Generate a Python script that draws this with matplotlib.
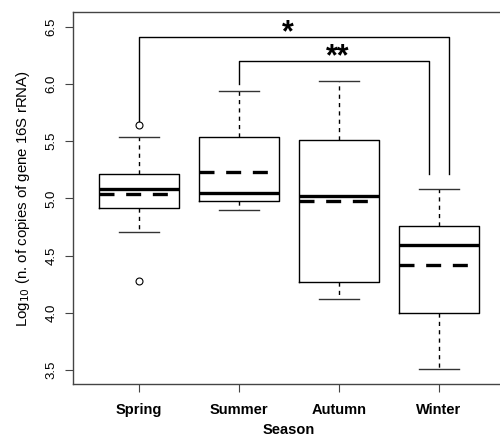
#!/usr/bin/env python3
# plot.py - seasonal boxplots of log10 16S rRNA gene copies
import matplotlib
matplotlib.use("Agg")
import matplotlib.pyplot as plt

plt.rcParams['font.family'] = ['Liberation Sans', 'DejaVu Sans']

seasons = ["Spring", "Summer", "Autumn", "Winter"]
whislo = [4.71, 4.90, 4.12, 3.51]
q1 = [4.92, 4.98, 4.27, 4.00]
med = [5.08, 5.05, 5.02, 4.59]
q3 = [5.21, 5.54, 5.51, 4.76]
whishi = [5.535, 5.94, 6.03, 5.08]
means = [5.04, 5.23, 4.975, 4.42]
outliers = [[5.64, 4.28], [], [], []]

# significance brackets: (left x, right x, height, left foot, right foot, label, label x)
brackets = [
    (1, 4.1, 6.41, 5.68, 5.21, "*", 2.49),
    (2, 3.9, 6.20, 6.00, 5.21, "**", 2.99),
]

stats = []
for i, name in enumerate(seasons):
    stats.append(dict(label=name, whislo=whislo[i], q1=q1[i], med=med[i],
                      q3=q3[i], whishi=whishi[i], mean=means[i],
                      fliers=outliers[i]))

fig = plt.figure(figsize=(5.0, 4.38), dpi=100)
ax = fig.add_axes([0.146, 0.1233, 0.864, 0.849])

ax.bxp(stats, positions=[1, 2, 3, 4], widths=0.8, showmeans=True, meanline=True,
       boxprops=dict(color='black', linewidth=1.0),
       whiskerprops=dict(color='black', linewidth=1.0, linestyle=(0, (3, 3))),
       capprops=dict(color='#333333', linewidth=1.0),
       capwidths=0.4,
       medianprops=dict(color='black', linewidth=2.4),
       meanprops=dict(color='black', linewidth=2.4, linestyle=(0, (4.5, 3.5))),
       flierprops=dict(marker='o', markerfacecolor='white', markeredgecolor='black',
                       markersize=5, markeredgewidth=0.8))

for left, right, top, foot_l, foot_r, label, lx in brackets:
    ax.plot([left, left, right, right], [foot_l, top, top, foot_r],
            color='black', linewidth=1.0)
    ax.text(lx, top - 0.035, label, ha='center', va='baseline',
            fontsize=22, fontweight='bold')

ax.set_xlim(0.34, 4.66)
ax.set_ylim(3.377, 6.63)
ax.set_yticks([3.5, 4.0, 4.5, 5.0, 5.5, 6.0, 6.5])
ax.set_yticklabels(["3.5", "4.0", "4.5", "5.0", "5.5", "6.0", "6.5"],
                   rotation=90, va='center', fontsize=9.5)
ax.set_xticks([1, 2, 3, 4])
ax.set_xticklabels(seasons, fontsize=10.5, fontweight='bold')
ax.tick_params(axis='both', length=6, width=0.8, color='#444444', pad=5)
ax.tick_params(axis='x', pad=8)
for sp in ax.spines.values():
    sp.set_color('#444444')
    sp.set_linewidth(1.0)

ax.set_xlabel("Season", fontsize=10.5, fontweight='bold', labelpad=4)
ax.set_ylabel("Log$_{10}$ (n. of copies of gene 16S rRNA)", fontsize=10.8, labelpad=10)

fig.savefig("out.png", dpi=100)
